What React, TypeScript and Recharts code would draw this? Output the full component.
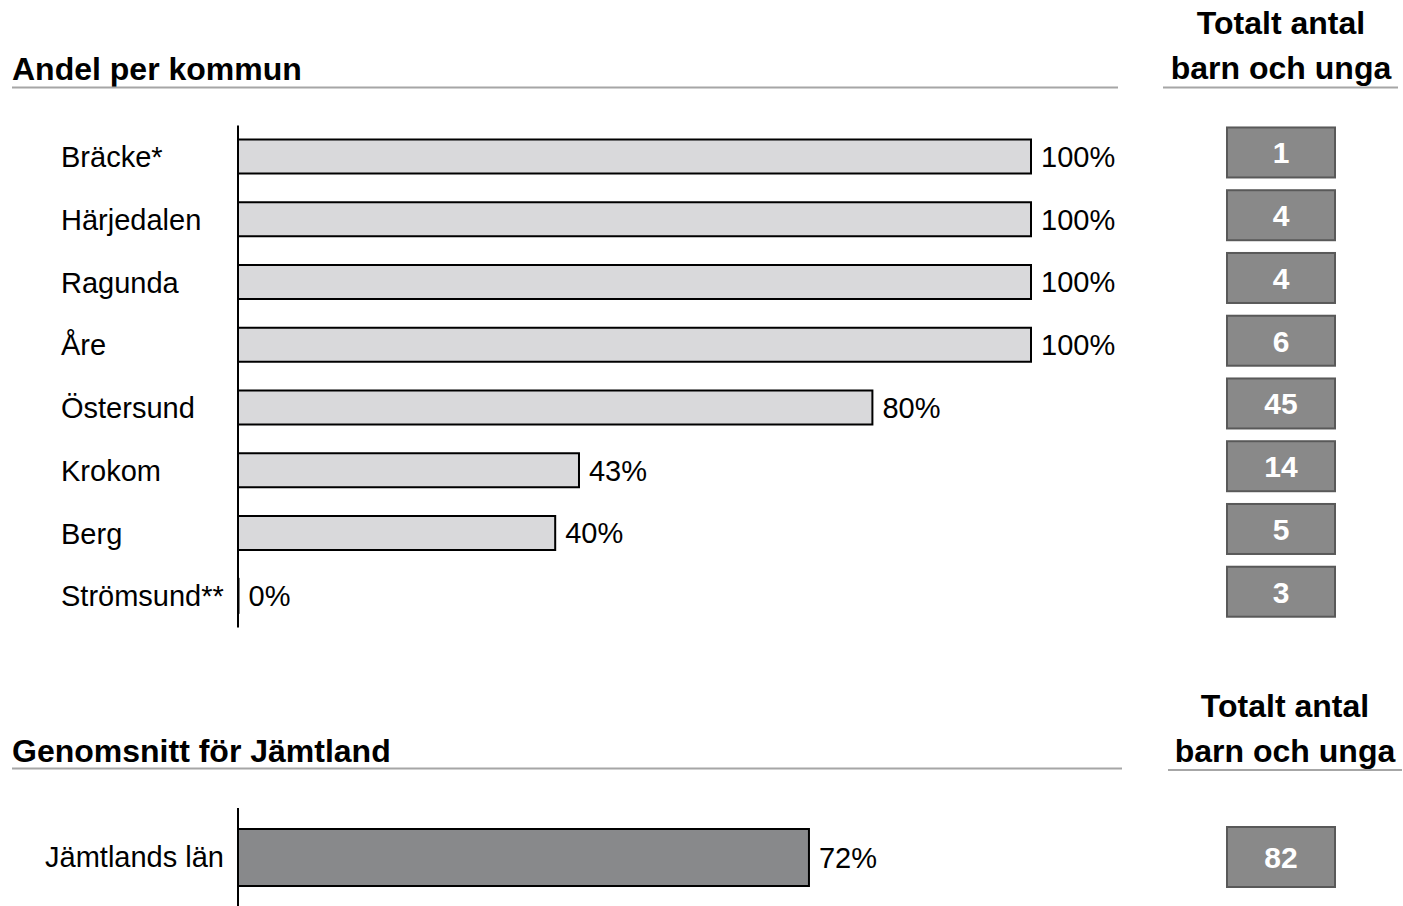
import React from 'react';
import { BarChart, Bar, XAxis, YAxis, LabelList } from 'recharts';

// andel per kommun (%), totalt antal barn och unga
const kommuner = ['Bräcke*', 'Härjedalen', 'Ragunda', 'Åre', 'Östersund', 'Krokom', 'Berg', 'Strömsund**'];
const andel = [100, 100, 100, 100, 80, 43, 40, 0];
const totalt = [1, 4, 4, 6, 45, 14, 5, 3];

const lanNamn = ['Jämtlands län'];
const lanAndel = [72];
const lanTotalt = [82];

const kommunData = kommuner.map((name, i) => ({ name, andel: andel[i], totalt: totalt[i] }));
const lanData = lanNamn.map((name, i) => ({ name, andel: lanAndel[i], totalt: lanTotalt[i] }));

const FONT = '"Liberation Sans", Arial, Helvetica, sans-serif';

const leftTick = (x: number, anchor: 'start' | 'end') => (props: any) => {
  const { y, payload } = props;
  return (
    <text x={x} y={y} dy="0.35em" textAnchor={anchor} fontSize={29} fill="#000" fontFamily={FONT}>
      {payload.value}
    </text>
  );
};

// box with total count, drawn at the row of the category tick
const totalTick = (rows: { name: string; totalt: number }[], boxH: number, shift: number) => (props: any) => {
  const { y, payload } = props;
  const row = rows.find((r) => r.name === payload.value);
  const cy = Number(y) + shift;
  return (
    <g>
      <rect x={1227} y={cy - boxH / 2} width={108} height={boxH} fill="#898989" stroke="#595959" strokeWidth={2} />
      <text x={1281} y={cy} dy="0.36em" textAnchor="middle" fontSize={30} fontWeight="bold" fill="#fff" fontFamily={FONT}>
        {row ? row.totalt : ''}
      </text>
    </g>
  );
};

const Header = ({ cx, y1, y2, lineY, x1, x2 }: any) => (
  <g>
    <text x={cx} y={y1} textAnchor="middle" fontSize={32} fontWeight="bold" fontFamily={FONT}>Totalt antal</text>
    <text x={cx} y={y2} textAnchor="middle" fontSize={32} fontWeight="bold" fontFamily={FONT}>barn och unga</text>
    <line x1={x1} x2={x2} y1={lineY} y2={lineY} stroke="#a6a6a6" strokeWidth={2} />
  </g>
);

export default function App() {
  return (
    <div style={{ position: 'absolute', left: 0, top: 0, width: 1403, height: 906, overflow: 'hidden', background: '#fff', fontFamily: FONT }}>
      <svg width={1403} height={906} style={{ position: 'absolute', left: 0, top: 0 }}>
        <text x={12} y={80} fontSize={32} fontWeight="bold" fontFamily={FONT}>Andel per kommun</text>
        <line x1={12} x2={1118} y1={87.5} y2={87.5} stroke="#a6a6a6" strokeWidth={2} />
        <Header cx={1281} y1={34} y2={79} lineY={87.5} x1={1163} x2={1398} />

        <text x={12} y={762} fontSize={32} fontWeight="bold" fontFamily={FONT}>Genomsnitt för Jämtland</text>
        <line x1={12} x2={1122} y1={768.5} y2={768.5} stroke="#a6a6a6" strokeWidth={2} />
        <Header cx={1285} y1={717} y2={762} lineY={770} x1={1168} x2={1402} />
      </svg>

      <div style={{ position: 'absolute', left: 0, top: 0 }}>
        <BarChart
          width={1403}
          height={650}
          data={kommunData}
          layout="vertical"
          margin={{ top: 125.6, bottom: 22.4, left: 0, right: 0 }}
          barCategoryGap={0}
        >
          <XAxis type="number" domain={[0, 100]} hide />
          <YAxis
            yAxisId="left"
            type="category"
            dataKey="name"
            width={238}
            axisLine={{ stroke: '#000', strokeWidth: 2 }}
            tickLine={false}
            tick={leftTick(61, 'start')}
          />
          <YAxis
            yAxisId="right"
            orientation="right"
            type="category"
            dataKey="name"
            width={372}
            axisLine={false}
            tickLine={false}
            tick={totalTick(kommunData, 50, -4.5)}
          />
          <Bar yAxisId="left" dataKey="andel" barSize={34} minPointSize={0.5} fill="#d9d9db" stroke="#000" strokeWidth={2} isAnimationActive={false}>
            <LabelList
              dataKey="andel"
              position="right"
              offset={10}
              formatter={(v: any) => `${v}%`}
              fill="#000"
              fontSize={29}
              fontFamily={FONT}
            />
          </Bar>
        </BarChart>
      </div>

      <div style={{ position: 'absolute', left: 0, top: 790 }}>
        <BarChart
          width={1403}
          height={116}
          data={lanData}
          layout="vertical"
          margin={{ top: 18, bottom: 0, left: 0, right: 0 }}
          barCategoryGap={0}
        >
          <XAxis type="number" domain={[0, 100]} hide />
          <YAxis
            yAxisId="left"
            type="category"
            dataKey="name"
            width={238}
            axisLine={{ stroke: '#000', strokeWidth: 2 }}
            tickLine={false}
            tick={leftTick(224, 'end')}
          />
          <YAxis
            yAxisId="right"
            orientation="right"
            type="category"
            dataKey="name"
            width={372}
            axisLine={false}
            tickLine={false}
            tick={totalTick(lanData, 60, 0)}
          />
          <Bar yAxisId="left" dataKey="andel" barSize={57} fill="#88898b" stroke="#000" strokeWidth={2} isAnimationActive={false}>
            <LabelList
              dataKey="andel"
              position="right"
              offset={10}
              formatter={(v: any) => `${v}%`}
              fill="#000"
              fontSize={29}
              fontFamily={FONT}
            />
          </Bar>
        </BarChart>
      </div>
    </div>
  );
}
